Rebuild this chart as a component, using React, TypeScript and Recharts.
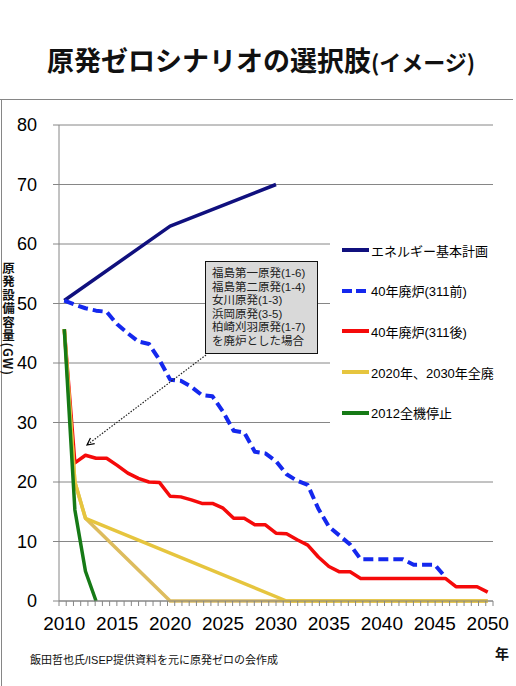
import { LineChart, Line, XAxis, YAxis, CartesianGrid, Legend } from 'recharts';

// エネルギー基本計画
const planYears = [2010, 2020, 2030];
const planValues = [50.5, 63, 70];

// 40年廃炉(311前)
const before311Years = [
  2010, 2011, 2012, 2013, 2014, 2015, 2016, 2017, 2018, 2019,
  2020, 2021, 2022, 2023, 2024, 2025, 2026, 2027, 2028, 2029,
  2030, 2031, 2032, 2033, 2034, 2035, 2036, 2037, 2038, 2039,
  2040, 2041, 2042, 2043, 2044, 2045, 2046,
];
const before311Values = [
  50.5, 49.8, 49.2, 48.8, 48.6, 46.5, 45, 43.6, 43.2, 40.5,
  37.2, 37, 36, 34.6, 34.4, 31.8, 28.6, 28.3, 25.1, 24.8,
  23.5, 21.3, 20.2, 19.5, 15.5, 12.5, 11, 9.5, 7, 7,
  7, 7, 7, 6.1, 6.1, 6.1, 4,
];

// 40年廃炉(311後)
const after311Years = [
  2010, 2011, 2012, 2013, 2014, 2015, 2016, 2017, 2018, 2019,
  2020, 2021, 2022, 2023, 2024, 2025, 2026, 2027, 2028, 2029,
  2030, 2031, 2032, 2033, 2034, 2035, 2036, 2037, 2038, 2039,
  2040, 2041, 2042, 2043, 2044, 2045, 2046, 2047, 2048, 2049,
  2050,
];
const after311Values = [
  45.7, 23.2, 24.5, 24, 24, 22.8, 21.5, 20.6, 20, 19.9,
  17.6, 17.5, 17, 16.4, 16.4, 15.6, 13.9, 13.9, 12.8, 12.8,
  11.4, 11.3, 10.3, 9.4, 7.4, 5.8, 4.9, 4.9, 3.8, 3.8,
  3.8, 3.8, 3.8, 3.8, 3.8, 3.8, 3.8, 2.4, 2.4, 2.4,
  1.5,
];

// 2020年、2030年全廃
const phaseOut2020Years = [2010, 2011, 2012, 2020, 2050];
const phaseOut2020Values = [45.7, 20, 13.9, 0, 0];
const phaseOut2030Years = [2010, 2011, 2012, 2031, 2050];
const phaseOut2030Values = [45.7, 20, 13.9, 0, 0];

// 2012全機停止
const stop2012Years = [2010, 2011, 2012, 2013];
const stop2012Values = [45.7, 15.3, 5, 0];

const yTicks = [0, 10, 20, 30, 40, 50, 60, 70, 80];
const xLabelYears = [2010, 2015, 2020, 2025, 2030, 2035, 2040, 2045, 2050];

const noteLines = [
  '福島第一原発(1-6)',
  '福島第二原発(1-4)',
  '女川原発(1-3)',
  '浜岡原発(3-5)',
  '柏崎刈羽原発(1-7)',
  'を廃炉とした場合',
];

const yTitle = '原発設備容量(GW)';

const zip = (years: number[], values: number[]) =>
  years.map((year, i) => ({ year, value: values[i] }));

const series = [
  { id: 'plan', name: 'エネルギー基本計画', data: zip(planYears, planValues), color: '#10107E', dash: undefined, width: 3.5, legend: true },
  { id: 'before', name: '40年廃炉(311前)', data: zip(before311Years, before311Values), color: '#1428EE', dash: '10 5', width: 4, legend: true },
  { id: 'after', name: '40年廃炉(311後)', data: zip(after311Years, after311Values), color: '#F50A0A', dash: undefined, width: 3.5, legend: true },
  { id: 'p2020', name: '2020年全廃', data: zip(phaseOut2020Years, phaseOut2020Values), color: '#DDBC5E', dash: undefined, width: 3.5, legend: false },
  { id: 'p2030', name: '2020年、2030年全廃', data: zip(phaseOut2030Years, phaseOut2030Values), color: '#E6C53E', dash: undefined, width: 3.5, legend: true },
  { id: 'stop', name: '2012全機停止', data: zip(stop2012Years, stop2012Values), color: '#167A16', dash: undefined, width: 3.5, legend: true },
];

// small ticks under the year axis
const minorTicks = Array.from({ length: 61 }, (_, i) => 2009.5 + (i * 41) / 60);
const xTicks = [...minorTicks, ...xLabelYears];

const GRID = '#868686';
const NUM_FONT = "'Liberation Sans', Arial, sans-serif";
const JP_FONT = "'Liberation Sans', 'Noto Sans CJK JP', sans-serif";
const JP_BOLD = "'Noto Sans CJK JP', sans-serif";

function YearTick(props: any) {
  const { x, y, payload, index } = props;
  if (index < minorTicks.length) {
    return <line x1={x} x2={x} y1={y} y2={y + 5} stroke={GRID} strokeWidth={1} />;
  }
  return (
    <text x={x} y={y + 29} textAnchor="middle" fontSize={19} fontFamily={NUM_FONT} fill="#000">
      {payload.value}
    </text>
  );
}

function LegendBox() {
  return (
    <div style={{ background: '#fff', width: 186, height: 212, paddingTop: 2, boxSizing: 'border-box' }}>
      {series.filter(s => s.legend).map(s => (
        <div key={s.id} style={{ display: 'flex', alignItems: 'center', height: 40.6 }}>
          <svg width={41} height={8} style={{ display: 'block' }}>
            <line x1={12} x2={39} y1={4} y2={4} stroke={s.color} strokeWidth={4} strokeDasharray={s.dash ? '10 4' : undefined} />
          </svg>
          <span style={{ fontFamily: JP_FONT, fontSize: 13, color: '#000', whiteSpace: 'nowrap' }}>{s.name}</span>
        </div>
      ))}
    </div>
  );
}

export default function App() {
  return (
    <div style={{ position: 'absolute', left: 0, top: 0, width: 516, height: 686, background: '#fff', overflow: 'hidden' }}>
      <div style={{ position: 'absolute', top: 43, left: 0, width: 522, textAlign: 'center', fontFamily: JP_BOLD, fontWeight: 700, color: '#111', whiteSpace: 'nowrap', lineHeight: '34px' }}>
        <span style={{ fontSize: 27 }}>原発ゼロシナリオの選択肢</span>
        <span style={{ fontSize: 22 }}>(イメージ)</span>
      </div>

      <div style={{ position: 'absolute', left: 0, top: 99, width: 513, height: 1, background: GRID }} />
      <div style={{ position: 'absolute', left: 1, top: 99, width: 1, height: 587, background: GRID }} />

      <div style={{ position: 'absolute', left: 0, top: 0 }}>
        <LineChart width={516} height={686} margin={{ top: 125, right: 23, left: 15, bottom: 55 }}>
          <CartesianGrid vertical={false} stroke={GRID} strokeWidth={1} />
          <XAxis
            dataKey="year"
            type="number"
            domain={[2009.5, 2050.5]}
            ticks={xTicks}
            interval={0}
            height={30}
            tickSize={0}
            tickMargin={0}
            tickLine={false}
            axisLine={{ stroke: GRID }}
            tick={<YearTick />}
          />
          <YAxis
            type="number"
            domain={[0, 80]}
            ticks={yTicks}
            interval={0}
            width={44}
            tickSize={6}
            tickMargin={16}
            tickLine={{ stroke: GRID }}
            axisLine={{ stroke: GRID }}
            tick={{ fontSize: 18, fontFamily: NUM_FONT, fill: '#000' }}
          />
          <Legend
            layout="vertical"
            align="center"
            verticalAlign="middle"
            content={() => <LegendBox />}
            wrapperStyle={{ left: 330, top: 228, width: 186, height: 212 }}
          />
          {series.map(s => (
            <Line
              key={s.id}
              data={s.data}
              dataKey="value"
              name={s.name}
              type="linear"
              stroke={s.color}
              strokeWidth={s.width}
              strokeDasharray={s.dash}
              strokeLinejoin="round"
              dot={false}
              activeDot={false}
              legendType={s.legend ? 'line' : 'none'}
              isAnimationActive={false}
            />
          ))}
        </LineChart>
      </div>

      <svg width={516} height={686} style={{ position: 'absolute', left: 0, top: 0, pointerEvents: 'none' }}>
        <defs>
          <marker id="arr" markerWidth={10} markerHeight={10} refX={8} refY={5} orient="auto" markerUnits="userSpaceOnUse">
            <path d="M1,1.5 L8,5 L1,8.5" fill="none" stroke="#000" strokeWidth={1.2} />
          </marker>
        </defs>
        <line x1={206} y1={355} x2={87} y2={445} stroke="#222" strokeWidth={1.2} strokeDasharray="1.5 1.5" markerEnd="url(#arr)" />
      </svg>

      <div style={{ position: 'absolute', left: 205, top: 261, width: 113, height: 93, boxSizing: 'border-box', background: '#D9D9D9', border: '1px solid #111', padding: '5px 0 0 6px', fontFamily: JP_FONT, fontSize: 11.5, lineHeight: '13.6px', color: '#222', whiteSpace: 'nowrap' }}>
        {noteLines.map(t => <div key={t}>{t}</div>)}
      </div>

      <div style={{ position: 'absolute', left: 1, top: 262, writingMode: 'vertical-rl', textOrientation: 'mixed', fontFamily: JP_BOLD, fontWeight: 700, fontSize: 12.5, letterSpacing: '0.9px', lineHeight: '15px', color: '#111' }}>
        {yTitle}
      </div>

      <div style={{ position: 'absolute', left: 495, top: 644, fontFamily: JP_BOLD, fontWeight: 700, fontSize: 14, lineHeight: '18px', color: '#111' }}>
        年
      </div>

      <div style={{ position: 'absolute', left: 30, top: 652, fontFamily: JP_FONT, fontSize: 11, lineHeight: '16px', color: '#111', whiteSpace: 'nowrap' }}>
        飯田哲也氏/ISEP提供資料を元に原発ゼロの会作成
      </div>
    </div>
  );
}
